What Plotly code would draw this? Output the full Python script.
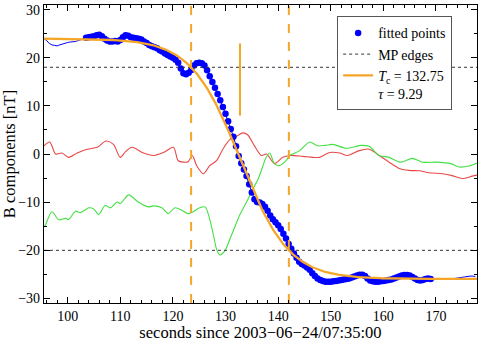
import numpy as np
import plotly.graph_objects as go

# ---- data ----
TC = 132.75
TAU = 9.29
B_UP = 24.0      # upstream asymptote
B_DOWN = -26.0   # downstream asymptote

# blue component, sampled every 0.5 s starting at 95.5 s (rows of 10 samples)
BL_T0 = 95.5
BL_DT = 0.5
BL_V = [
    24.0, 23.6, 23.0, 22.7, 22.6, 22.5, 22.7, 22.9, 23.1, 23.2,        # 95.5
    23.3, 23.3, 23.4, 23.6, 23.8, 24.0, 24.2, 24.3, 24.4, 24.5,        # 100.5
    24.7, 24.8, 24.5, 24.0, 23.6, 23.4, 23.4, 23.5, 23.4, 23.7,        # 105.5
    24.3, 24.7, 24.6, 24.3, 24.2, 24.1, 24.0, 23.8, 23.4, 23.1,        # 110.5
    22.7, 22.4, 22.2, 22.0, 21.6, 21.3, 20.9, 20.6, 20.3, 20.0,        # 115.5
    19.6, 19.0, 17.8, 16.8, 16.6, 16.9, 17.5, 18.4, 18.9, 19.0,        # 120.5
    18.9, 18.4, 17.4, 16.2, 15.0, 13.8, 12.5, 11.2, 9.8, 8.4,          # 125.5
    6.8, 5.2, 3.6, 1.6, -0.4, -1.9, -3.2, -4.6, -6.3, -8.0,            # 130.5
    -9.4, -10.0, -10.1, -10.4, -11.0, -11.8, -12.8, -13.6, -14.2, -14.8,  # 135.5
    -15.6, -16.6, -17.6, -18.7, -19.7, -20.7, -21.6, -22.4, -22.9, -23.2,  # 140.5
    -23.6, -24.1, -24.8, -25.4, -25.9, -26.2, -26.4, -26.6, -26.6, -26.6,  # 145.5
    -26.5, -26.4, -26.3, -26.2, -26.1, -26.0, -25.9, -25.7, -25.5, -25.3,  # 150.5
    -25.1, -25.1, -25.4, -25.9, -26.3, -26.5, -26.6, -26.6, -26.5, -26.4,  # 155.5
    -26.3, -26.2, -26.1, -25.9, -25.7, -25.5, -25.3, -25.2, -25.2, -25.3,  # 160.5
    -25.6, -25.9, -26.2, -26.3, -26.2, -26.0, -25.9, -26.0, -26.1, -26.1,  # 165.5
    -26.1, -26.0, -26.0, -26.0, -25.9, -25.9, -25.9, -25.8, -25.7, -25.6,  # 170.5
    -25.5, -25.4, -25.4, -25.4, -25.5,                                   # 175.5
]
FIT_START = 103.5
FIT_END = 169.0

RED_T = [95.5, 96.6, 97.7, 98.9, 100.2, 101.8, 103.7, 105.6, 107.3, 108.7,
         110.0, 111.0, 112.2, 114.4, 116.3, 118.2, 120.1, 121.0, 122.0, 122.9,
         123.7, 124.5, 125.8, 127.0, 128.3, 129.5, 130.8, 132.1, 133.3, 134.2,
         135.5, 136.8, 137.8, 139.3, 140.9, 142.2, 144.7, 146.6, 147.9, 149.8,
         151.7, 153.2, 155.4, 157.3, 159.2, 161.1, 163.0, 164.9, 166.8, 168.7,
         171.2, 173.1, 175.0, 176.9, 177.8]
RED_V = [1.7, 2.5, 0.0, 0.2, -0.7, 0.2, 1.0, 1.4, 2.7, 2.0,
         -0.7, 0.5, 1.4, 0.2, -0.3, 0.3, 1.4, -1.4, -1.7, -1.6,
         -0.3, -2.4, -4.1, -2.4, -1.4, 1.0, 3.0, 3.7, 4.4, 4.0,
         1.7, -0.3, 0.0, -2.0, -0.7, -0.3, -0.5, -0.7, -0.7, 0.3,
         0.2, -0.3, 0.7, 1.0, -0.3, -1.7, -3.0, -3.4, -3.5, -3.9,
         -4.1, -4.5, -5.1, -4.6, -4.4]

GREEN_T = [95.5, 95.8, 97.0, 98.3, 99.6, 100.2, 101.5, 102.4, 104.0, 104.9,
           105.9, 107.1, 108.1, 109.4, 110.0, 111.6, 113.4, 115.3, 116.3, 117.9,
           119.1, 120.4, 121.7, 122.9, 123.7, 125.1, 126.1, 126.7, 127.7, 128.3,
           128.9, 129.9, 130.8, 131.8, 132.7, 134.0, 135.2, 136.2, 137.1, 137.6,
           138.4, 139.3, 140.3, 141.5, 142.2, 144.1, 146.0, 147.5, 149.0, 150.4,
           152.9, 155.8, 157.3, 159.2, 161.1, 163.3, 165.5, 167.4, 170.0, 172.8,
           174.4, 176.3, 177.8]
GREEN_V = [-15.2, -14.7, -12.0, -13.7, -13.4, -13.6, -11.9, -12.2, -11.2, -11.4,
           -12.6, -10.7, -11.2, -10.0, -10.3, -8.5, -10.0, -11.0, -10.8, -11.2,
           -12.4, -11.2, -11.7, -12.4, -12.1, -11.2, -11.0, -12.4, -16.8, -19.8,
           -21.0, -20.1, -17.8, -15.1, -12.7, -10.0, -7.3, -5.2, -2.5, -1.0,
           0.2, -2.0, -2.4, -1.4, -0.3, 0.7, 2.5, 1.7, 1.8, 2.0,
           1.2, 1.8, 1.6, -0.3, -0.7, -1.7, -0.9, -1.7, -1.7, -2.0,
           -2.7, -2.5, -1.9]

TC_MARK = [8.0, 23.0]
X_RANGE = [95.5, 177.8]
Y_RANGE = [-31, 31]

# ---- derived ----
bl_t = BL_T0 + BL_DT * np.arange(len(BL_V))
bl_v = np.array(BL_V)
sel = (bl_t >= FIT_START - 1e-9) & (bl_t <= FIT_END + 1e-9)

mid = 0.5 * (B_UP + B_DOWN)
amp = 0.5 * (B_UP - B_DOWN)
fit_t = np.linspace(X_RANGE[0], X_RANGE[1], 400)
fit_v = mid - amp * np.tanh((fit_t - TC) / TAU)
edge_hi = mid + amp * np.tanh(1.0)
edge_lo = mid - amp * np.tanh(1.0)

ORANGE = "#f5a628"
FONT = "'Liberation Serif', 'Times New Roman', 'DejaVu Serif', serif"

fig = go.Figure()
fig.add_trace(go.Scatter(x=RED_T, y=RED_V, mode="lines", line=dict(color="#e84848", width=1.1, shape="spline", smoothing=0.8),
                         showlegend=False, hoverinfo="skip"))
fig.add_trace(go.Scatter(x=GREEN_T, y=GREEN_V, mode="lines", line=dict(color="#44e044", width=1.1, shape="spline", smoothing=0.8),
                         showlegend=False, hoverinfo="skip"))
fig.add_trace(go.Scatter(x=bl_t, y=bl_v, mode="lines", line=dict(color="#0000ff", width=1),
                         showlegend=False, hoverinfo="skip"))
fig.add_trace(go.Scatter(x=bl_t[sel], y=bl_v[sel], mode="markers", name="fitted points",
                         marker=dict(color="#0000ff", size=6.5, line=dict(width=0))))
fig.add_trace(go.Scatter(x=[X_RANGE[0], X_RANGE[1], None, X_RANGE[0], X_RANGE[1]],
                         y=[edge_hi, edge_hi, None, edge_lo, edge_lo], mode="lines", name="MP edges",
                         line=dict(color="#333333", width=1, dash="dot")))
fig.add_trace(go.Scatter(x=fit_t, y=fit_v, mode="lines",
                         name="<i>T</i><sub>c</sub> = 132.75<br><i>τ</i> = 9.29",
                         line=dict(color=ORANGE, width=2.3)))
for xv in (TC - TAU, TC + TAU):
    fig.add_trace(go.Scatter(x=[xv, xv], y=Y_RANGE, mode="lines", line=dict(color=ORANGE, width=2, dash="dash"),
                             showlegend=False, hoverinfo="skip"))
fig.add_trace(go.Scatter(x=[TC, TC], y=TC_MARK, mode="lines", line=dict(color=ORANGE, width=2),
                         showlegend=False, hoverinfo="skip"))

axis_common = dict(showline=True, linecolor="black", linewidth=1.3, mirror="ticks", ticks="inside",
                   tickcolor="black", ticklen=6, tickwidth=1, showgrid=False, zeroline=False,
                   tickfont=dict(family=FONT, size=14, color="black"))
fig.update_xaxes(range=X_RANGE, dtick=10, tick0=0,
                 minor=dict(dtick=2, ticks="inside", ticklen=3, tickcolor="black"),
                 title=dict(text="seconds since 2003−06−24/07:35:00", font=dict(family=FONT, size=16.5, color="black"), standoff=3),
                 **axis_common)
fig.update_yaxes(range=Y_RANGE, dtick=10, tick0=0,
                 minor=dict(dtick=5, ticks="inside", ticklen=3, tickcolor="black"),
                 title=dict(text="B components [nT]", font=dict(family=FONT, size=16.5, color="black"), standoff=2),
                 **axis_common)
fig.update_layout(
    width=481, height=342,
    margin=dict(l=44, r=3, t=3, b=35),
    paper_bgcolor="white", plot_bgcolor="white",
    font=dict(family=FONT, color="black"),
    legend=dict(x=0.677, y=0.962, xanchor="left", yanchor="top", bgcolor="white",
                bordercolor="#555555", borderwidth=1, font=dict(family=FONT, size=14, color="black"),
                tracegroupgap=0, valign="top"),
)
fig.write_html("out.html")
